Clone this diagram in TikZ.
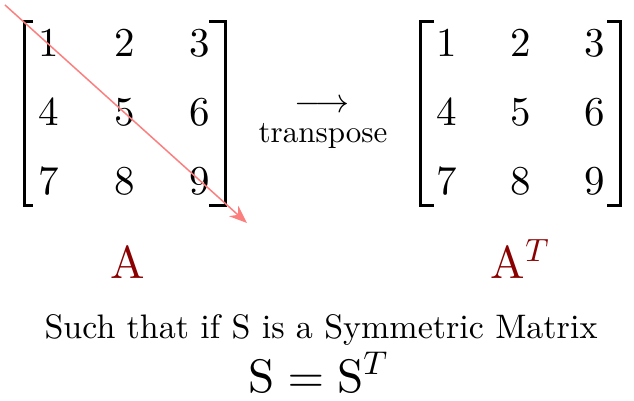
\documentclass[tikz,border=0pt]{standalone}
\usepackage{fontspec}
\setmainfont{lmroman10-regular}[Extension=.otf, ItalicFont=lmroman10-italic, BoldFont=lmroman10-bold]
\DeclareFontShape{OT1}{cmr}{m}{n}{<-> cmr10}{}
\DeclareFontShape{OML}{cmm}{m}{it}{<-> cmmi10}{}
\DeclareFontShape{OMS}{cmsy}{m}{n}{<-> cmsy10}{}
\usetikzlibrary{arrows.meta}
\definecolor{arrred}{HTML}{FC7F7F}
\definecolor{lblred}{HTML}{8B0000}
\begin{document}
\begin{tikzpicture}[x=1pt,y=-1pt,
  num/.style={font=\fontsize{41}{41}\selectfont, inner sep=0pt},
  brk/.style={line width=3pt, line cap=butt, line join=miter},
  lbl/.style={font=\fontsize{46}{46}\selectfont, text=lblred, inner sep=0pt, anchor=base},
  txt/.style={font=\fontsize{34}{34}\selectfont, inner sep=0pt, anchor=base}]
\useasboundingbox (0,0) rectangle (634,400);
% left matrix
\foreach \r/\y in {1/43,2/112,3/181}{
  \foreach \c/\x in {1/49,2/125,3/200}{
    \pgfmathtruncatemacro{\v}{(\r-1)*3+\c}
    \node[num] (l\r\c) at (\x,\y) {\v};
  }
}
\draw[brk] (33,21.5) -- (24,21.5) -- (24,205.5) -- (33,205.5);
\draw[brk] (209,21.5) -- (225,21.5) -- (225,205.5) -- (209,205.5);
% right matrix
\foreach \r/\y in {1/43,2/112,3/181}{
  \foreach \c/\x in {1/447,2/521,3/595}{
    \pgfmathtruncatemacro{\v}{(\r-1)*3+\c}
    \node[num] (r\r\c) at (\x,\y) {\v};
  }
}
\draw[brk] (434,21.5) -- (420,21.5) -- (420,205.5) -- (434,205.5);
\draw[brk] (607,21.5) -- (620,21.5) -- (620,205.5) -- (607,205.5);
% transpose arrow
\node[font=\fontsize{34}{34}\selectfont, inner sep=0pt, anchor=base] (arr) at (322,112) {$\longrightarrow$};
\node[font=\fontsize{31}{31}\selectfont, inner sep=0pt, anchor=base] (tr) at (323,142) {transpose};
% diagonal
\coordinate (ds) at (5,5);
\coordinate (de) at (247,223);
\draw[arrred, line width=1.5pt, -{Stealth[length=18pt,width=14pt]}] (ds) -- (de);
% labels
\node[lbl] (A) at (128,278) {A};
\node[lbl] (AT) at (520,278) {$\mathrm{A}^{T}$};
% bottom text
\node[txt] (such) at (321,338) {Such that if S is a Symmetric Matrix};
\node[font=\fontsize{47}{47}\selectfont, inner sep=0pt, anchor=base] (eq) at (318,392) {$\mathrm{S}=\mathrm{S}^{T}$};
\end{tikzpicture}
\end{document}
